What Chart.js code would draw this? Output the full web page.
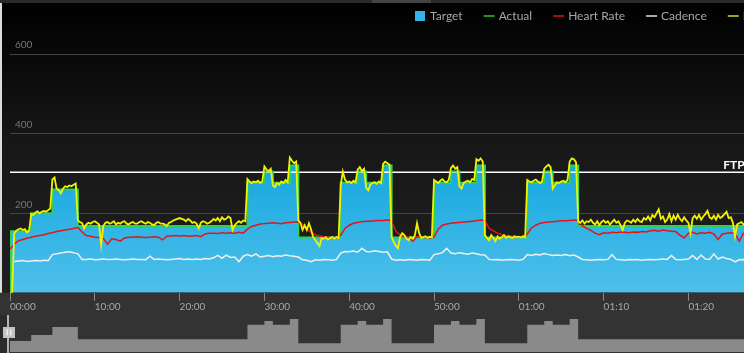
<!DOCTYPE html>
<html>
<head>
<meta charset="utf-8">
<script src="https://cdn.jsdelivr.net/npm/chart.js"></script>
<style>
  html, body { margin: 0; padding: 0; background: #333; overflow: hidden; }
  #wrap { position: relative; width: 744px; height: 353px; overflow: hidden; }
  #main { position: absolute; left: 0; top: 0; }
  #overview { position: absolute; left: 0; top: 315px; }
</style>
</head>
<body>
<div id="wrap">
  <canvas id="main" width="780" height="315"></canvas>
  <canvas id="overview" width="780" height="38"></canvas>
</div>
<script>
// Workout ride chart: target power steps (blue), actual target (green), heart rate,
// cadence and power, with an FTP line and an overview strip of the workout below.

const POWER_STEP_MIN = 0.25;  // power read every 15 s
const SAMPLE_MIN = 0.5;       // heart rate / cadence every 30 s
const WORKOUT_END = 90;       // minutes
const FTP = 303;

// Target steps: start minute and watts
const STEP_START = [0, 2.5, 5, 8, 28, 30, 31, 33, 34, 39, 41, 42, 44, 45, 50, 52, 53, 55, 56, 61, 63, 64, 66, 67];
const STEP_WATTS = [155, 200, 260, 168, 277, 305, 277, 320, 139, 277, 305, 277, 320, 139, 277, 305, 277, 320, 139, 277, 305, 277, 320, 168];

// one row = 5 minutes
const POWER = [
  0, 0, 150, 156, 160, 162, 158, 160, 152, 156, 198, 196, 202, 205, 200, 204, 206, 204, 208, 212,
  285, 290, 262, 258, 250, 262, 268, 266, 270, 268, 272, 275, 182, 178, 175, 162, 172, 176, 174, 178,
  180, 176, 172, 120, 168, 176, 178, 174, 176, 180, 172, 176, 174, 178, 180, 174, 172, 176, 178, 174,
  174, 178, 180, 176, 174, 178, 176, 172, 170, 176, 178, 174, 174, 172, 168, 176, 178, 182, 184, 186,
  188, 186, 184, 180, 186, 182, 176, 178, 174, 162, 176, 180, 178, 174, 176, 180, 186, 182, 188, 180,
  190, 184, 186, 192, 188, 158, 170, 176, 180, 176, 182, 180, 286, 280, 276, 280, 278, 282, 276, 280,
  318, 310, 306, 312, 270, 266, 276, 272, 280, 276, 284, 278, 340, 332, 326, 330, 182, 176, 158, 170,
  158, 175, 160, 140, 133, 125, 118, 138, 136, 140, 134, 138, 140, 136, 140, 138, 270, 305, 285, 278,
  280, 276, 282, 278, 310, 316, 306, 312, 264, 258, 272, 276, 278, 274, 280, 276, 324, 330, 326, 322,
  140, 128, 118, 112, 140, 150, 145, 136, 132, 140, 136, 145, 175, 150, 138, 140, 142, 138, 141, 140,
  284, 280, 276, 282, 286, 280, 278, 284, 314, 320, 312, 316, 268, 262, 276, 280, 282, 278, 286, 284,
  336, 332, 338, 330, 145, 138, 132, 145, 138, 130, 142, 136, 140, 145, 138, 142, 140, 138, 142, 140,
  141, 139, 142, 140, 284, 280, 278, 282, 285, 280, 276, 280, 312, 318, 322, 316, 262, 270, 278, 276,
  280, 282, 278, 284, 330, 338, 336, 328, 180, 176, 182, 174, 180, 178, 184, 176, 172, 180, 170, 178,
  182, 176, 180, 172, 178, 184, 176, 180, 170, 158, 176, 182, 180, 176, 184, 178, 186, 180, 178, 188,
  184, 192, 182, 196, 190, 200, 210, 186, 192, 178, 184, 198, 180, 194, 184, 196, 186, 180, 190, 182,
  176, 150, 188, 194, 186, 196, 184, 192, 198, 206, 190, 186, 194, 184, 196, 188, 192, 198, 204, 188,
  190, 176, 141, 172, 175, 178, 172, 176, 180, 176, 178, 174, 176, 180, 178, 174, 176, 178, 174, 172,
  170
];

const HEART_RATE = [
  110, 122, 131, 134, 137, 140, 142, 144, 146, 149,
  151, 154, 156, 158, 160, 162, 164, 153, 144, 142,
  140, 139, 137, 122, 136, 134, 130, 138, 140, 140,
  141, 140, 139, 140, 141, 140, 133, 143, 143, 144,
  143, 144, 142, 143, 144, 141, 148, 150, 150, 149,
  151, 150, 151, 150, 152, 150, 160, 167, 170, 173,
  174, 175, 176, 175, 174, 176, 177, 178, 179, 172,
  160, 152, 146, 143, 141, 140, 139, 138, 145, 162,
  170, 175, 177, 179, 180, 180, 181, 182, 182, 183,
  181, 155, 145, 142, 140, 130, 141, 140, 139, 138,
  140, 160, 170, 173, 175, 176, 177, 178, 179, 180,
  181, 183, 182, 162, 156, 150, 146, 144, 143, 142,
  141, 142, 148, 163, 170, 175, 177, 178, 179, 180,
  181, 181, 182, 183, 182, 168, 162, 157, 150, 146,
  151, 150, 152, 151, 153, 152, 151, 153, 152, 154,
  153, 156, 157, 155, 158, 156, 155, 154, 145, 138,
  150, 152, 148, 151, 150, 152, 148, 134, 148, 150,
  151, 149, 130, 150, 151, 150, 152, 151, 150, 150,
  149
];

const CADENCE = [
  null, 79, 80, 81, 79, 80, 81, 80, 82, 81,
  96, 98, 100, 102, 103, 101, 98, 84, 84, 85,
  83, 84, 85, 84, 84, 85, 84, 83, 84, 85,
  84, 84, 83, 92, 84, 85, 84, 83, 84, 85,
  86, 84, 85, 84, 85, 84, 86, 85, 88, 94,
  87, 95, 89, 90, 78, 92, 96, 92, 98, 90,
  92, 94, 91, 93, 92, 95, 93, 92, 90, 83,
  82, 78, 83, 82, 84, 83, 82, 84, 100, 104,
  103, 105, 102, 112, 104, 103, 106, 104, 102, 103,
  85, 82, 83, 82, 84, 83, 82, 84, 83, 82,
  96, 98, 101, 112, 100, 98, 101, 99, 97, 100,
  98, 96, 95, 84, 83, 84, 82, 83, 84, 83,
  82, 84, 96, 94, 97, 95, 99, 96, 94, 95,
  94, 96, 93, 95, 90, 84, 83, 82, 83, 84,
  83, 84, 96, 84, 83, 82, 84, 83, 84, 82,
  83, 84, 83, 84, 85, 84, 94, 84, 83, 84,
  85, 94, 84, 95, 85, 84, 98, 85, 90, 86,
  84, 78, 83, 84, 83, 84, 82, 83, 84, 83,
  84
];

const Y_TICKS = [200, 400, 600];

const LEGEND = [
  { label: 'Target',     color: '#35b2e8', box: true },
  { label: 'Actual',     color: '#1c9a1c' },
  { label: 'Heart Rate', color: '#a31212' },
  { label: 'Cadence',    color: '#a8a8a8' },
  { label: 'Power',      color: '#a3a30f' }
];

const FONT = 'Lato, "Open Sans", sans-serif';

function stepPoints() {
  const pts = STEP_START.map((s, i) => ({ x: s, y: STEP_WATTS[i] }));
  pts.push({ x: WORKOUT_END, y: STEP_WATTS[STEP_WATTS.length - 1] });
  return pts;
}
function samples(arr, step) {
  return arr.map((v, i) => ({ x: i * step, y: v }));
}
function fmtTime(v) {
  const p = n => String(n).padStart(2, '0');
  const h = Math.floor(v / 60), m = v % 60;
  return h ? p(h) + ':' + p(m) : p(m) + ':00';
}
function targetFill(c) {
  const a = c.chart.chartArea;
  if (!a) return '#1aa8e0';
  const g = c.chart.ctx.createLinearGradient(0, a.top, 0, a.bottom);
  g.addColorStop(0, '#0096d6');
  g.addColorStop(0.55, '#16a8e0');
  g.addColorStop(1, '#4fc0ea');
  return g;
}

// actual target starts from zero at the first second
const actual = [{ x: 0, y: 0 }].concat(stepPoints());

const mainBackdrop = {
  id: 'mainBackdrop',
  beforeDraw(chart) {
    const { ctx, width, height, chartArea: a } = chart;
    ctx.save();
    ctx.fillStyle = '#333';
    ctx.fillRect(0, 0, width, height);
    const g = ctx.createLinearGradient(0, 3, 0, a.bottom);
    g.addColorStop(0, '#000');
    g.addColorStop(0.5, '#181818');
    g.addColorStop(1, '#202020');
    ctx.fillStyle = g;
    ctx.fillRect(0, 3, width, a.bottom - 3);
    ctx.fillStyle = '#2a2a2a';
    ctx.fillRect(0, 0, width, 3);
    ctx.fillStyle = '#444';
    ctx.fillRect(372, 0, 59, 3);
    ctx.fillStyle = '#dcdcdc';
    ctx.fillRect(0, 3, 2, a.bottom - 3);
    ctx.restore();
  }
};

const legendAndLabels = {
  id: 'legendAndLabels',
  afterDraw(chart) {
    const { ctx, chartArea: a } = chart;
    ctx.save();
    ctx.font = 'bold 12px ' + FONT;
    ctx.fillStyle = '#fff';
    ctx.textBaseline = 'alphabetic';
    ctx.fillText('FTP', a.right - 50, chart.scales.y.getPixelForValue(FTP) - 3);

    ctx.font = '12px ' + FONT;
    ctx.textBaseline = 'middle';
    let x = 415;
    const cy = 16;
    LEGEND.forEach(item => {
      if (item.box) {
        ctx.fillStyle = item.color;
        ctx.fillRect(x, cy - 5, 10, 10);
      } else {
        ctx.strokeStyle = item.color;
        ctx.lineWidth = 2;
        ctx.beginPath();
        ctx.moveTo(x, cy);
        ctx.lineTo(x + 11, cy);
        ctx.stroke();
      }
      ctx.fillStyle = '#a8a8a8';
      ctx.fillText(item.label, x + 15, cy);
      x += 15 + ctx.measureText(item.label).width + 21;
    });
    ctx.restore();
  }
};

new Chart(document.getElementById('main'), {
  type: 'line',
  data: {
    datasets: [
      { label: 'Power', data: samples(POWER, POWER_STEP_MIN), borderColor: '#f2f200', borderWidth: 1.8, order: 0 },
      { label: 'Cadence', data: samples(CADENCE, SAMPLE_MIN), borderColor: '#f0f0f0', borderWidth: 1.5, order: 1 },
      { label: 'Heart Rate', data: samples(HEART_RATE, SAMPLE_MIN), borderColor: '#e3141c', borderWidth: 1.5, order: 2 },
      { label: 'Actual', data: actual, stepped: true, borderColor: '#2fd155', borderWidth: 2, order: 3 },
      { label: 'FTP', data: [{ x: 0, y: FTP }, { x: WORKOUT_END, y: FTP }], borderColor: '#ffffff', borderWidth: 1.5, order: 4 },
      { label: 'Target', data: stepPoints(), stepped: true, fill: 'origin', backgroundColor: targetFill,
        borderColor: 'rgba(0,0,0,0)', borderWidth: 0, order: 5 }
    ]
  },
  options: {
    responsive: false,
    animation: false,
    events: [],
    elements: { point: { radius: 0 }, line: { tension: 0 } },
    layout: { padding: { left: 10, right: 6.8, top: 14.5, bottom: 0 } },
    plugins: { legend: { display: false }, tooltip: { enabled: false } },
    scales: {
      x: {
        type: 'linear', min: 0, max: WORKOUT_END,
        afterFit: s => { s.height = 22.2; s.paddingLeft = 0; s.paddingRight = 0; },
        ticks: { stepSize: 10, autoSkip: false, maxRotation: 0, align: 'start', padding: 0,
                 color: '#a8a8a8', font: { family: FONT, size: 10 }, callback: fmtTime },
        grid: { drawOnChartArea: false, tickLength: 8, color: '#8a8a8a' },
        border: { display: false }
      },
      y: {
        min: 0, max: 700,
        afterFit: s => { s.width = 0; s.paddingTop = 0; s.paddingBottom = 0; },
        afterBuildTicks: s => { s.ticks = Y_TICKS.map(v => ({ value: v })); },
        ticks: { mirror: true, padding: 5, labelOffset: -9, color: '#777', font: { family: FONT, size: 10 } },
        grid: { color: '#444', drawTicks: false },
        border: { display: false }
      }
    }
  },
  plugins: [mainBackdrop, legendAndLabels]
});

const overviewBackdrop = {
  id: 'overviewBackdrop',
  beforeDraw(chart) {
    const { ctx, width, height } = chart;
    ctx.save();
    ctx.fillStyle = '#333';
    ctx.fillRect(0, 0, width, height);
    ctx.fillStyle = '#2b2b2b';
    ctx.fillRect(0, 0, 8, height);
    ctx.restore();
  },
  afterDraw(chart) {
    const { ctx, height } = chart;
    ctx.save();
    ctx.fillStyle = '#b0b0b0';
    ctx.fillRect(7, 0, 2, height);
    ctx.fillStyle = '#c4c4c4';
    ctx.fillRect(3, 12, 12, 11);
    ctx.fillStyle = '#eeeeee';
    ctx.fillRect(6.5, 14.5, 1.5, 6);
    ctx.fillRect(10, 14.5, 1.5, 6);
    ctx.restore();
  }
};

new Chart(document.getElementById('overview'), {
  type: 'line',
  data: {
    datasets: [{ data: stepPoints(), stepped: true, fill: 'start', backgroundColor: '#8a8a8a',
                 borderColor: 'rgba(0,0,0,0)', borderWidth: 0, pointRadius: 0 }]
  },
  options: {
    responsive: false,
    animation: false,
    events: [],
    layout: { padding: { left: 10, right: 6.8, top: 0, bottom: 1 } },
    plugins: { legend: { display: false }, tooltip: { enabled: false } },
    scales: {
      x: { type: 'linear', min: 0, max: WORKOUT_END, display: false },
      y: { min: 73, max: 350, display: false }
    }
  },
  plugins: [overviewBackdrop]
});
</script>
</body>
</html>
